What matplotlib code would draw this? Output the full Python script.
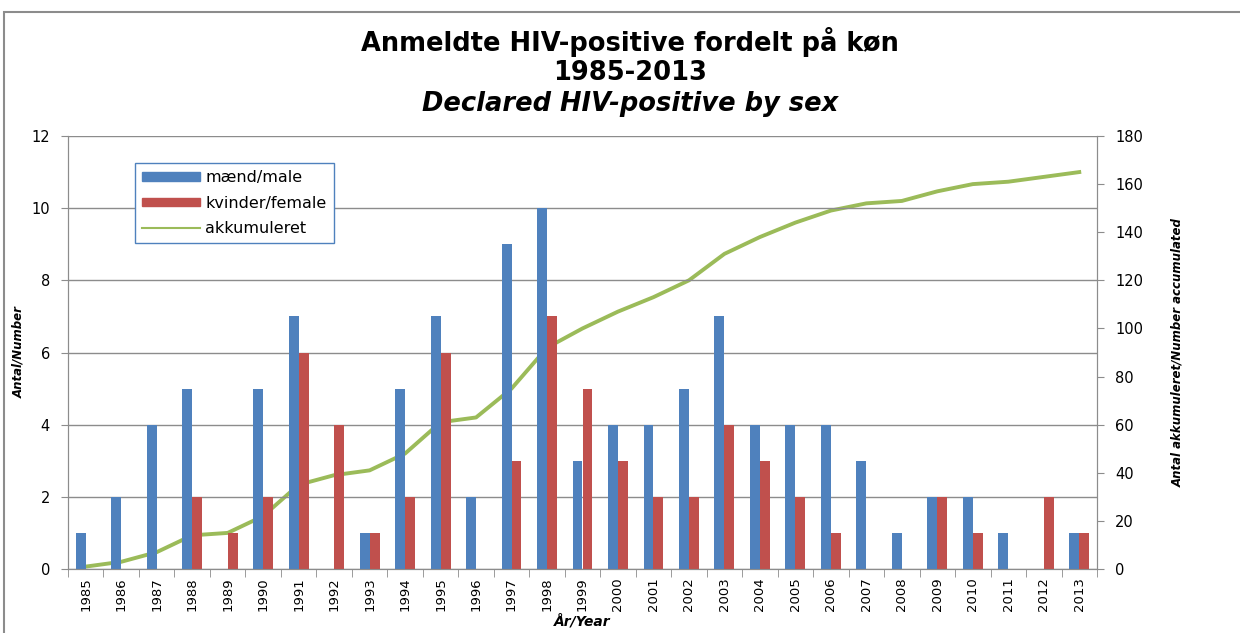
import matplotlib.pyplot as plt
import numpy as np
from matplotlib.patches import Rectangle, Patch
from matplotlib.lines import Line2D

years = [str(y) for y in range(1985, 2014)]
male = [1, 2, 4, 5, 0, 5, 7, 0, 1, 5, 7, 2, 9, 10, 3, 4, 4, 5, 7, 4, 4, 4, 3, 1, 2, 2, 1, 0, 1]
female = [0, 0, 0, 2, 1, 2, 6, 4, 1, 2, 6, 0, 3, 7, 5, 3, 2, 2, 4, 3, 2, 1, 0, 0, 2, 1, 0, 2, 1]
accumulated = [1, 3, 7, 14, 15, 22, 35, 39, 41, 48, 61, 63, 75, 92, 100, 107, 113, 120,
               131, 138, 144, 149, 152, 153, 157, 160, 161, 163, 165]

blue = "#4F81BD"
red = "#C0504D"
green = "#9BBB59"

fig = plt.figure(figsize=(12.4, 6.33), dpi=100)
fig.patches.append(Rectangle((4 / 1240, -0.1), 1.2, 1 - 12 / 633 + 0.1,
                             transform=fig.transFigure, fill=False,
                             edgecolor="#8c8c8c", linewidth=1.5))

ax = fig.add_axes([68 / 1240, 1 - 569 / 633, 1029 / 1240, 433 / 633])

x = np.arange(len(years))
w = 0.28
ax.bar(x - w / 2, male, w, color=blue, zorder=2)
ax.bar(x + w / 2, female, w, color=red, zorder=2)

ax.set_xlim(-0.5, len(years) - 0.5)
ax.set_ylim(0, 12)
ax.set_yticks(range(0, 13, 2))
ax.grid(axis="y", color="#8c8c8c", linewidth=1, zorder=0)
ax.set_xticks(x)
ax.set_xticklabels(years, rotation=90, fontsize=9.5)
ax.set_xticks(np.arange(-0.5, len(years), 1), minor=True)
ax.tick_params(axis="x", which="major", length=0, pad=6)
ax.tick_params(axis="x", which="minor", length=6, color="#8c8c8c")
ax.tick_params(axis="y", length=5, color="#8c8c8c", labelsize=10.5, pad=8)
ax.spines["top"].set_visible(False)
for s in ["left", "bottom", "right"]:
    ax.spines[s].set_color("#8c8c8c")

ax2 = ax.twinx()
ax2.plot(x, accumulated, color=green, linewidth=2.8, zorder=3)
ax2.set_ylim(0, 180)
ax2.set_yticks(range(0, 181, 20))
ax2.tick_params(axis="y", length=5, color="#8c8c8c", labelsize=10.5, pad=8)
ax2.spines["top"].set_visible(False)
for s in ["left", "bottom", "right"]:
    ax2.spines[s].set_color("#8c8c8c")

ax.set_ylabel("Antal/Number", fontsize=8.5, fontweight="bold", fontstyle="italic", labelpad=4)
ax2.set_ylabel("Antal akkumuleret/Number accumulated", fontsize=8.5, fontweight="bold",
               fontstyle="italic", labelpad=20)
ax.set_xlabel("År/Year", fontsize=10, fontweight="bold", fontstyle="italic", labelpad=2)

tkw = dict(ha="center", va="center", fontsize=18.5, fontweight="bold", family="DejaVu Sans")
fig.text(0.508, 1 - 42 / 633, "Anmeldte HIV-positive fordelt på køn", **tkw)
fig.text(0.508, 1 - 73 / 633, "1985-2013", **tkw)
fig.text(0.508, 1 - 104 / 633, "Declared HIV-positive by sex", fontstyle="italic", **tkw)

handles = [Patch(color=blue), Patch(color=red), Line2D([], [], color=green, linewidth=1.5)]
leg = ax.legend(handles, ["mænd/male", "kvinder/female", "akkumuleret"],
                loc="upper left", bbox_to_anchor=(67 / 1029, 1 - 27 / 433), borderaxespad=0,
                fontsize=11.5, frameon=True, fancybox=False, borderpad=0.45,
                handlelength=3.6, handleheight=0.45, handletextpad=0.35, labelspacing=0.65)
leg.get_frame().set_edgecolor(blue)
leg.get_frame().set_facecolor("white")
leg.get_frame().set_alpha(1)
leg.set_zorder(5)
ax.set_zorder(ax2.get_zorder() + 1)
ax.patch.set_visible(False)
ax2.set_facecolor("#F2F2F2")

fig.savefig("out.png", dpi=100)
